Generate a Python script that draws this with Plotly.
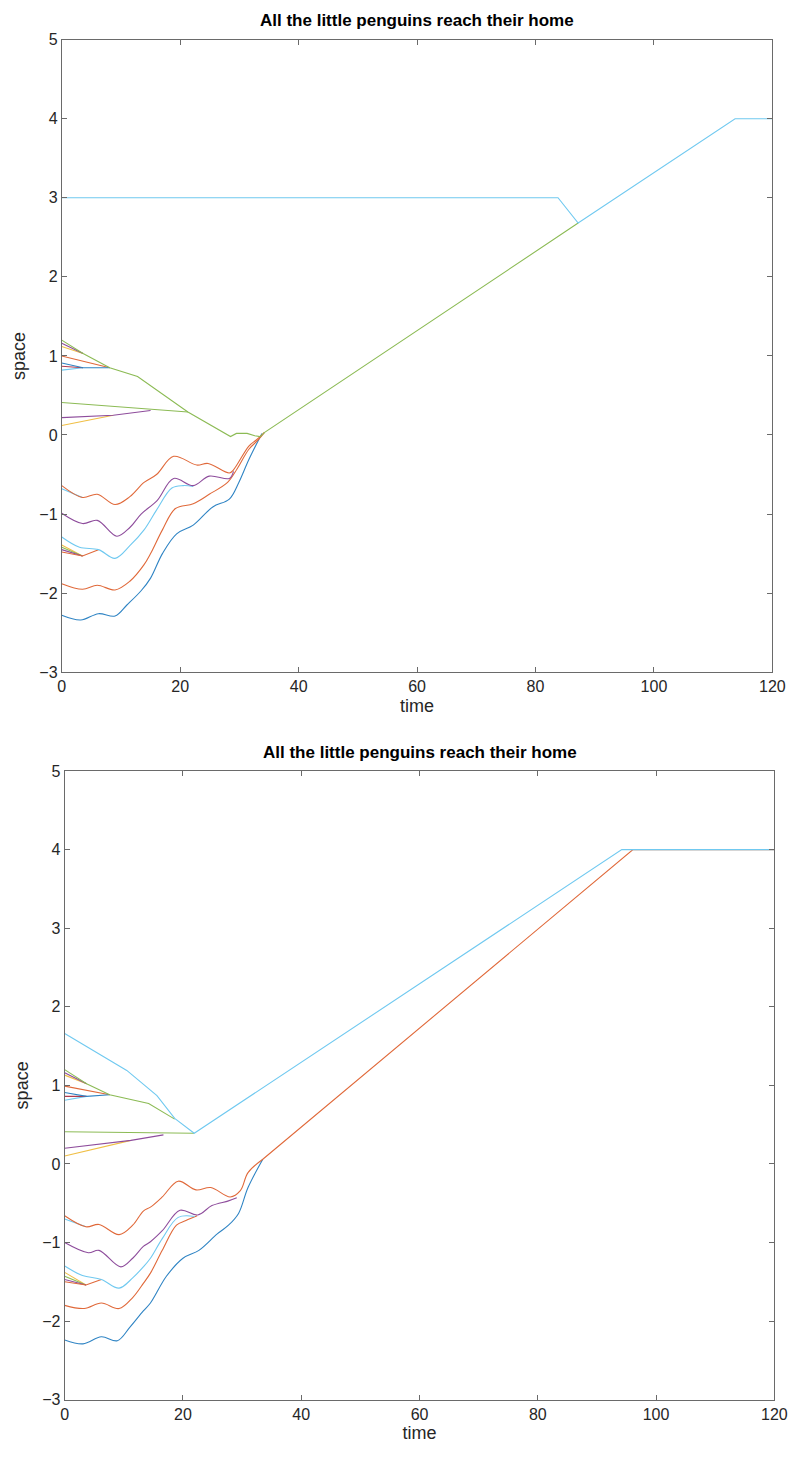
import plotly.graph_objects as go

# ---------------- colours (MATLAB default order, slightly lightened as in the scan) ----------------
BLUE = "#2f84c4"
ORANGE = "#e0693a"
YELLOW = "#f0bf45"
PURPLE = "#8e4d9c"
GREEN = "#8cbb55"
LBLUE = "#70c9f0"
DRED = "#b03a4f"

TITLE = "All the little penguins reach their home"
X_TICKS = [0, 20, 40, 60, 80, 100, 120]
Y_TICKS = [-3, -2, -1, 0, 1, 2, 3, 4, 5]

# ======================= TOP PLOT DATA =======================
# upper flock
t1_up_green = [0, 3.6, 8.1, 12.8, 21.3, 28.5, 29.5, 31.3, 32.6, 33.5, 34.2, 87.2]
y1_up_green = [1.20, 1.03, 0.85, 0.74, 0.29, -0.02, 0.02, 0.02, -0.01, -0.02, 0.03, 2.68]
t1_up_purple = [0, 3.6]
y1_up_purple = [1.16, 1.03]
t1_up_yellow = [0, 3.6]
y1_up_yellow = [1.12, 1.03]
t1_up_orange = [0, 8.1]
y1_up_orange = [1.00, 0.85]
t1_up_blue = [0, 3.6, 8.1]
y1_up_blue = [0.91, 0.85, 0.85]
t1_up_dred = [0, 3.6]
y1_up_dred = [0.87, 0.85]
t1_up_lblue = [0, 3.6]
y1_up_lblue = [0.82, 0.85]
# middle flock
t1_mid_green = [0, 15, 21.3]
y1_mid_green = [0.41, 0.33, 0.29]
t1_mid_purple = [0, 8.7, 15]
y1_mid_purple = [0.22, 0.25, 0.31]
t1_mid_yellow = [0, 8.7]
y1_mid_yellow = [0.12, 0.25]
# lonely penguin
t1_lone = [0, 83.8, 87.2, 113.7, 120]
y1_lone = [3.0, 3.0, 2.68, 4.0, 4.0]
# lower (wavy) flock
t1_lo_orange_a = [0, 3.5, 6, 9, 11.5, 13.9, 16, 18.9, 22.8, 24.7, 28.3, 29, 31.6, 32.9, 34.2]
y1_lo_orange_a = [-0.64, -0.79, -0.75, -0.88, -0.78, -0.60, -0.50, -0.27, -0.38, -0.36, -0.48, -0.44, -0.14, -0.06, 0.03]
t1_lo_lblue_a = [0, 3.5]
y1_lo_lblue_a = [-0.68, -0.79]
t1_lo_purple = [0, 3.5, 6, 9.3, 11.5, 13.4, 16.1, 18.9, 22.2, 24.9, 28.3, 29]
y1_lo_purple = [-0.99, -1.12, -1.08, -1.28, -1.17, -1.00, -0.83, -0.55, -0.64, -0.52, -0.55, -0.46]
t1_lo_lblue_b = [0, 3, 6.2, 9, 11.5, 13.9, 16, 18.6, 20.5, 22.2]
y1_lo_lblue_b = [-1.29, -1.42, -1.45, -1.56, -1.40, -1.20, -0.95, -0.67, -0.64, -0.65]
t1_cl_yellow = [0, 3.5]
y1_cl_yellow = [-1.39, -1.53]
t1_cl_green = [0, 3.5]
y1_cl_green = [-1.42, -1.53]
t1_cl_purple = [0, 3.5]
y1_cl_purple = [-1.45, -1.53]
t1_cl_orange = [0, 3.5, 6.2]
y1_cl_orange = [-1.48, -1.53, -1.45]
t1_lo_orange_b = [0, 3.5, 6, 9, 11.5, 13.9, 15, 17, 19.2, 22.2, 24.9, 28, 29.6, 31.6, 33.2, 34.2]
y1_lo_orange_b = [-1.88, -1.95, -1.90, -1.96, -1.85, -1.64, -1.50, -1.20, -0.93, -0.87, -0.75, -0.60, -0.43, -0.18, -0.06, 0.03]
t1_lo_blue = [0, 3.2, 6.2, 9, 11, 13.4, 15, 17, 19.4, 22.2, 25.5, 28.3, 29.9, 31.6, 33.8]
y1_lo_blue = [-2.28, -2.34, -2.26, -2.29, -2.15, -1.97, -1.81, -1.50, -1.25, -1.14, -0.91, -0.81, -0.60, -0.31, 0.02]

# ======================= BOTTOM PLOT DATA =======================
t2_high_lblue = [0, 10.5, 15.6, 18.6, 21.9, 94.2, 120]
y2_high_lblue = [1.66, 1.19, 0.87, 0.58, 0.39, 4.0, 4.0]
t2_up_green = [0, 3.7, 7.6, 14.2, 18.6]
y2_up_green = [1.20, 1.02, 0.88, 0.77, 0.57]
t2_up_purple = [0, 3.7]
y2_up_purple = [1.16, 1.02]
t2_up_yellow = [0, 3.7]
y2_up_yellow = [1.13, 1.02]
t2_up_orange = [0, 7.6]
y2_up_orange = [0.99, 0.88]
t2_up_blue = [0, 3.7, 7.6]
y2_up_blue = [0.91, 0.86, 0.88]
t2_up_dred = [0, 3.7]
y2_up_dred = [0.86, 0.86]
t2_up_lblue = [0, 3.7]
y2_up_lblue = [0.81, 0.86]
t2_mid_green = [0, 21.9]
y2_mid_green = [0.41, 0.39]
t2_mid_purple = [0, 11.2, 16.7]
y2_mid_purple = [0.20, 0.30, 0.37]
t2_mid_yellow = [0, 11.2]
y2_mid_yellow = [0.10, 0.30]
t2_lo_orange_a = [0, 3.6, 5.8, 9.2, 11.5, 13.3, 14.5, 16.5, 19.2, 22.2, 24.7, 28, 29.7, 31, 33.5]
y2_lo_orange_a = [-0.66, -0.80, -0.77, -0.90, -0.78, -0.60, -0.55, -0.42, -0.22, -0.33, -0.30, -0.42, -0.34, -0.11, 0.06]
t2_run_orange = [33.5, 96.1, 120]
y2_run_orange = [0.06, 4.0, 4.0]
t2_lo_lblue_a = [0, 3.6]
y2_lo_lblue_a = [-0.70, -0.80]
t2_lo_purple = [0, 4, 5.8, 9.5, 11.5, 13.3, 14.5, 16.5, 19.5, 22.5, 24.9, 27.7, 29.1]
y2_lo_purple = [-1.00, -1.13, -1.10, -1.31, -1.20, -1.05, -0.99, -0.85, -0.59, -0.65, -0.53, -0.47, -0.43]
t2_lo_lblue_b = [0, 3, 6.2, 9.2, 11.5, 13.3, 14.5, 16.5, 19.2, 22]
y2_lo_lblue_b = [-1.30, -1.42, -1.47, -1.58, -1.45, -1.31, -1.20, -0.95, -0.68, -0.67]
t2_cl_yellow = [0, 3.6]
y2_cl_yellow = [-1.38, -1.54]
t2_cl_green = [0, 3.6]
y2_cl_green = [-1.43, -1.54]
t2_cl_purple = [0, 3.6]
y2_cl_purple = [-1.47, -1.54]
t2_cl_orange = [0, 3.6, 6.2]
y2_cl_orange = [-1.50, -1.54, -1.47]
t2_lo_orange_b = [0, 3.3, 6.2, 9.2, 11.5, 13.3, 14.5, 16.5, 18.9, 20.5, 22.4]
y2_lo_orange_b = [-1.80, -1.84, -1.77, -1.84, -1.70, -1.52, -1.39, -1.10, -0.78, -0.72, -0.66]
t2_lo_blue = [0, 3.1, 6.2, 8.9, 11, 13.3, 14.5, 17.2, 20, 22.7, 25.8, 27.7, 29.4, 31, 33.5]
y2_lo_blue = [-2.24, -2.29, -2.20, -2.25, -2.08, -1.87, -1.77, -1.43, -1.20, -1.10, -0.89, -0.78, -0.63, -0.30, 0.06]

# drawing order (later on top): (t, y, colour, shape)
top_traces = [
    (t1_lo_blue, y1_lo_blue, BLUE, "spline"),
    (t1_lo_orange_b, y1_lo_orange_b, ORANGE, "spline"),
    (t1_cl_yellow, y1_cl_yellow, YELLOW, "linear"),
    (t1_cl_green, y1_cl_green, GREEN, "linear"),
    (t1_cl_purple, y1_cl_purple, PURPLE, "linear"),
    (t1_cl_orange, y1_cl_orange, ORANGE, "linear"),
    (t1_lo_lblue_b, y1_lo_lblue_b, LBLUE, "spline"),
    (t1_lo_purple, y1_lo_purple, PURPLE, "spline"),
    (t1_lo_lblue_a, y1_lo_lblue_a, LBLUE, "linear"),
    (t1_lo_orange_a, y1_lo_orange_a, ORANGE, "spline"),
    (t1_mid_yellow, y1_mid_yellow, YELLOW, "linear"),
    (t1_mid_purple, y1_mid_purple, PURPLE, "linear"),
    (t1_mid_green, y1_mid_green, GREEN, "linear"),
    (t1_up_lblue, y1_up_lblue, LBLUE, "linear"),
    (t1_up_dred, y1_up_dred, DRED, "linear"),
    (t1_up_orange, y1_up_orange, ORANGE, "linear"),
    (t1_up_blue, y1_up_blue, BLUE, "linear"),
    (t1_up_yellow, y1_up_yellow, YELLOW, "linear"),
    (t1_up_purple, y1_up_purple, PURPLE, "linear"),
    (t1_up_green, y1_up_green, GREEN, "linear"),
    (t1_lone, y1_lone, LBLUE, "linear"),
]

bottom_traces = [
    (t2_lo_blue, y2_lo_blue, BLUE, "spline"),
    (t2_lo_orange_b, y2_lo_orange_b, ORANGE, "spline"),
    (t2_cl_yellow, y2_cl_yellow, YELLOW, "linear"),
    (t2_cl_green, y2_cl_green, GREEN, "linear"),
    (t2_cl_purple, y2_cl_purple, PURPLE, "linear"),
    (t2_cl_orange, y2_cl_orange, ORANGE, "linear"),
    (t2_lo_lblue_b, y2_lo_lblue_b, LBLUE, "spline"),
    (t2_lo_purple, y2_lo_purple, PURPLE, "spline"),
    (t2_lo_lblue_a, y2_lo_lblue_a, LBLUE, "linear"),
    (t2_lo_orange_a, y2_lo_orange_a, ORANGE, "spline"),
    (t2_run_orange, y2_run_orange, ORANGE, "linear"),
    (t2_mid_yellow, y2_mid_yellow, YELLOW, "linear"),
    (t2_mid_purple, y2_mid_purple, PURPLE, "linear"),
    (t2_mid_green, y2_mid_green, GREEN, "linear"),
    (t2_up_lblue, y2_up_lblue, LBLUE, "linear"),
    (t2_up_dred, y2_up_dred, DRED, "linear"),
    (t2_up_orange, y2_up_orange, ORANGE, "linear"),
    (t2_up_blue, y2_up_blue, BLUE, "linear"),
    (t2_up_yellow, y2_up_yellow, YELLOW, "linear"),
    (t2_up_purple, y2_up_purple, PURPLE, "linear"),
    (t2_up_green, y2_up_green, GREEN, "linear"),
    (t2_high_lblue, y2_high_lblue, LBLUE, "linear"),
]

fig = go.Figure()
for t, y, c, shape in top_traces:
    fig.add_trace(go.Scatter(x=t, y=y, mode="lines", xaxis="x", yaxis="y",
                             line=dict(color=c, width=1.1, shape=shape),
                             showlegend=False, hoverinfo="skip"))
for t, y, c, shape in bottom_traces:
    fig.add_trace(go.Scatter(x=t, y=y, mode="lines", xaxis="x2", yaxis="y2",
                             line=dict(color=c, width=1.1, shape=shape),
                             showlegend=False, hoverinfo="skip"))

W, H = 803, 1465
FONT = "Liberation Sans, Arial, Helvetica, sans-serif"
AX_COL = "#6a6a6a"
TXT_COL = "#262626"

def xax(domain, anchor):
    return dict(domain=domain, anchor=anchor, range=[0, 120], tickvals=X_TICKS,
                showline=True, linecolor=AX_COL, linewidth=1, mirror="ticks",
                ticks="inside", ticklen=5, tickcolor=AX_COL, tickwidth=1,
                showgrid=False, zeroline=False,
                tickfont=dict(family=FONT, size=16, color=TXT_COL),
                title=dict(text="time", font=dict(family=FONT, size=18, color=TXT_COL), standoff=4))

def yax(domain, anchor):
    return dict(domain=domain, anchor=anchor, range=[-3, 5], tickvals=Y_TICKS,
                showline=True, linecolor=AX_COL, linewidth=1, mirror="ticks",
                ticks="inside", ticklen=5, tickcolor=AX_COL, tickwidth=1,
                showgrid=False, zeroline=False,
                tickfont=dict(family=FONT, size=16, color=TXT_COL),
                title=dict(text="space", font=dict(family=FONT, size=18, color=TXT_COL), standoff=8))

fig.update_layout(
    width=W, height=H,
    margin=dict(l=0, r=0, t=0, b=0),
    paper_bgcolor="white", plot_bgcolor="white",
    xaxis=xax([59 / W, 785 / W], "y"),
    yaxis=yax([1 - 672 / H, 1 - 32 / H], "x"),
    xaxis2=xax([62 / W, 787 / W], "y2"),
    yaxis2=yax([1 - 1408 / H, 1 - 772 / H], "x2"),
    annotations=[
        dict(text="<b>" + TITLE + "</b>", xref="paper", yref="paper",
             x=(59 + 785) / 2 / W, y=1 - 13 / H, xanchor="center", yanchor="middle",
             showarrow=False, font=dict(family=FONT, size=17, color="black")),
        dict(text="<b>" + TITLE + "</b>", xref="paper", yref="paper",
             x=(62 + 787) / 2 / W, y=1 - 753 / H, xanchor="center", yanchor="middle",
             showarrow=False, font=dict(family=FONT, size=17, color="black")),
    ],
)

fig.write_html("out.html")
